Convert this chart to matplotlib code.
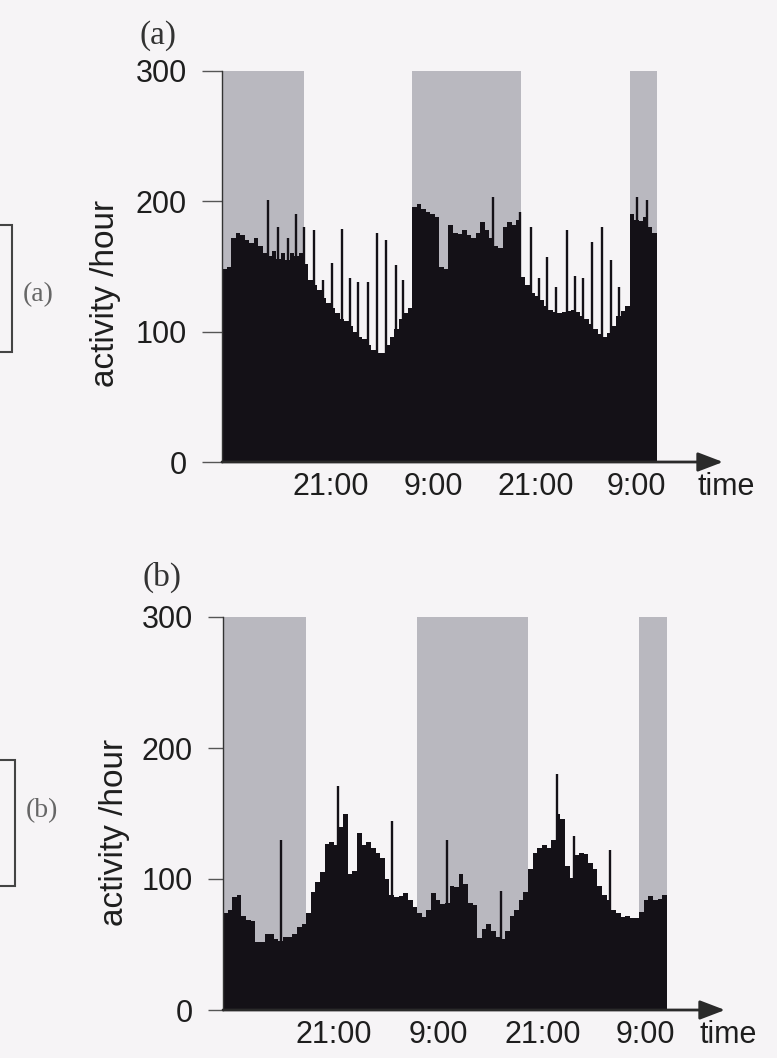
import numpy as np
import matplotlib
matplotlib.use("Agg")
import matplotlib.pyplot as plt
from matplotlib.patches import Rectangle

# activity per half hour, starting 12:00 (48 h)
hours_step = 0.5
a_base = [
    148, 150, 172, 176, 174, 170, 168, 172, 166, 160,
    158, 162, 156, 160, 155, 160, 158, 160, 152, 140,
    136, 132, 126, 122, 118, 114, 110, 108, 104, 100,
    96, 94, 90, 86, 84, 84, 90, 96, 102, 110,
    114, 118, 196, 198, 194, 192, 190, 188, 150, 148,
    182, 176, 175, 178, 174, 172, 176, 184, 178, 172,
    166, 164, 180, 184, 182, 186, 142, 136, 130, 127,
    124, 120, 117, 115, 114, 115, 116, 117, 115, 112,
    110, 106, 102, 98, 96, 99, 104, 112, 116, 120,
    190, 186, 185, 188, 180, 176]
a_spike_h = [5.1, 6.2, 7.3, 8.2, 9.1, 10.2, 11.1, 12.1, 13.2, 14.1, 15.0, 16.1,
             17.1, 18.1, 19.2, 20.0, 29.9, 32.9, 34.1, 35.0, 35.9, 36.9, 38.1,
             39.0, 39.9, 40.8, 41.9, 42.9, 43.8, 45.8, 46.9]
a_spike_v = [201, 180, 172, 190, 180, 178, 140, 153, 179, 141, 138, 138,
             176, 170, 151, 140, 203, 192, 180, 141, 157, 134, 178,
             143, 141, 169, 180, 155, 134, 203, 201]

b_base = [
    74, 76, 86, 88, 72, 69, 68, 52, 52, 58,
    58, 54, 53, 56, 56, 58, 63, 66, 74, 90,
    98, 105, 127, 128, 126, 140, 150, 104, 106, 135,
    126, 128, 124, 120, 116, 100, 88, 86, 87, 89,
    84, 79, 74, 71, 76, 89, 84, 81, 82, 95,
    94, 104, 96, 82, 80, 55, 62, 66, 60, 56,
    54, 60, 72, 76, 84, 90, 108, 120, 124, 126,
    124, 130, 150, 146, 110, 101, 118, 120, 119, 112,
    108, 95, 88, 84, 76, 74, 71, 72, 70, 70,
    75, 84, 87, 84, 85, 88]
b_spike_h = [6.3, 12.4, 18.3, 24.2, 30.1, 36.1, 38.0, 41.9]
b_spike_v = [130, 171, 144, 130, 91, 180, 133, 122]

# light periods (hours from start)
light_start = [0, 21, 45]
light_end = [9, 33, 48]

tick_hours = [12, 23.3, 34.6, 45.7]
tick_labels = ["21:00", "9:00", "21:00", "9:00"]
y_ticks = [0, 100, 200, 300]

BG = "#f6f4f6"
GREY = "#b9b8bf"
BLACK = "#141117"
INK = "#1e1e1e"

plt.rcParams["font.family"] = ["Liberation Sans", "DejaVu Sans"]

fig = plt.figure(figsize=(7.77, 10.58), dpi=100)
fig.patch.set_facecolor(BG)


def panel(rect, xmax, base, sp_h, sp_v, tlen, title, title_xy, ylab_xy):
    ax = fig.add_axes(rect)
    ax.set_facecolor("none")
    for s, e in zip(light_start, light_end):
        ax.axvspan(s, e, ymin=0, ymax=1, color=GREY, lw=0, zorder=0)
    edges = np.arange(len(base) + 1) * hours_step
    ax.stairs(base, edges, fill=True, color=BLACK, baseline=0, zorder=2)
    ax.vlines(sp_h, 0, sp_v, color=BLACK, lw=1.7, zorder=2)
    ax.set_xlim(0, xmax)
    ax.set_ylim(0, 300)
    for side in ["top", "right", "bottom"]:
        ax.spines[side].set_visible(False)
    ax.spines["left"].set_color("#333333")
    ax.spines["left"].set_linewidth(1.0)
    ax.spines["left"].set_zorder(3)
    ax.set_yticks(y_ticks)
    ax.set_yticklabels([str(v) for v in y_ticks])
    ax.tick_params(axis="y", direction="out", length=tlen, width=1.0,
                   color="#555555", pad=11, labelsize=22, labelcolor=INK)
    ax.set_xticks(tick_hours)
    ax.set_xticklabels(tick_labels)
    ax.tick_params(axis="x", length=0, pad=7, labelsize=22, labelcolor=INK)
    ax.annotate("", xy=(1, 0), xycoords=("axes fraction", "data"),
                xytext=(0, 0), textcoords="data",
                arrowprops=dict(arrowstyle="-|>,head_length=1.1,head_width=0.42",
                                mutation_scale=14, lw=2.0, color="#2a2a2a",
                                shrinkA=0, shrinkB=0),
                annotation_clip=False, zorder=4)
    ax.annotate("time", xy=(1, 0), xycoords="axes fraction",
                xytext=(2, -7), textcoords="offset points",
                ha="center", va="top", fontsize=22, color=INK)
    fig.text(title_xy[0] / 777, 1 - title_xy[1] / 1058, title,
             family="Liberation Serif", fontsize=24, color="#333333",
             ha="center", va="center")
    fig.text(ylab_xy[0] / 777, 1 - ylab_xy[1] / 1058, "activity /hour",
             rotation=90, fontsize=24, color=INK, ha="center", va="center")
    return ax


panel([222 / 777, 1 - 462 / 1058, 501 / 777, 391 / 1058], 55.3,
      a_base, a_spike_h, a_spike_v, 14.4, "(a)", (158, 36), (106, 293))
panel([223 / 777, 1 - 1010 / 1058, 502 / 777, 393 / 1058], 54.3,
      b_base, b_spike_h, b_spike_v, 10.8, "(b)", (162, 577), (114, 832))

# partial boxes at the left edge (cut-off neighbouring figure)
for x1, y1, y2, lab, lx, ly in [(12, 225, 352, "(a)", 38, 295),
                                (15, 760, 886, "(b)", 42, 811)]:
    fig.patches.append(Rectangle((-20 / 777, 1 - y2 / 1058), (x1 + 20) / 777,
                                 (y2 - y1) / 1058, transform=fig.transFigure,
                                 fill=False, ec="#444444", lw=1.5))
    fig.text(lx / 777, 1 - ly / 1058, lab, family="Liberation Serif",
             fontsize=20, color="#666666", ha="center", va="center")

fig.savefig("out.png", dpi=100, facecolor=BG)
